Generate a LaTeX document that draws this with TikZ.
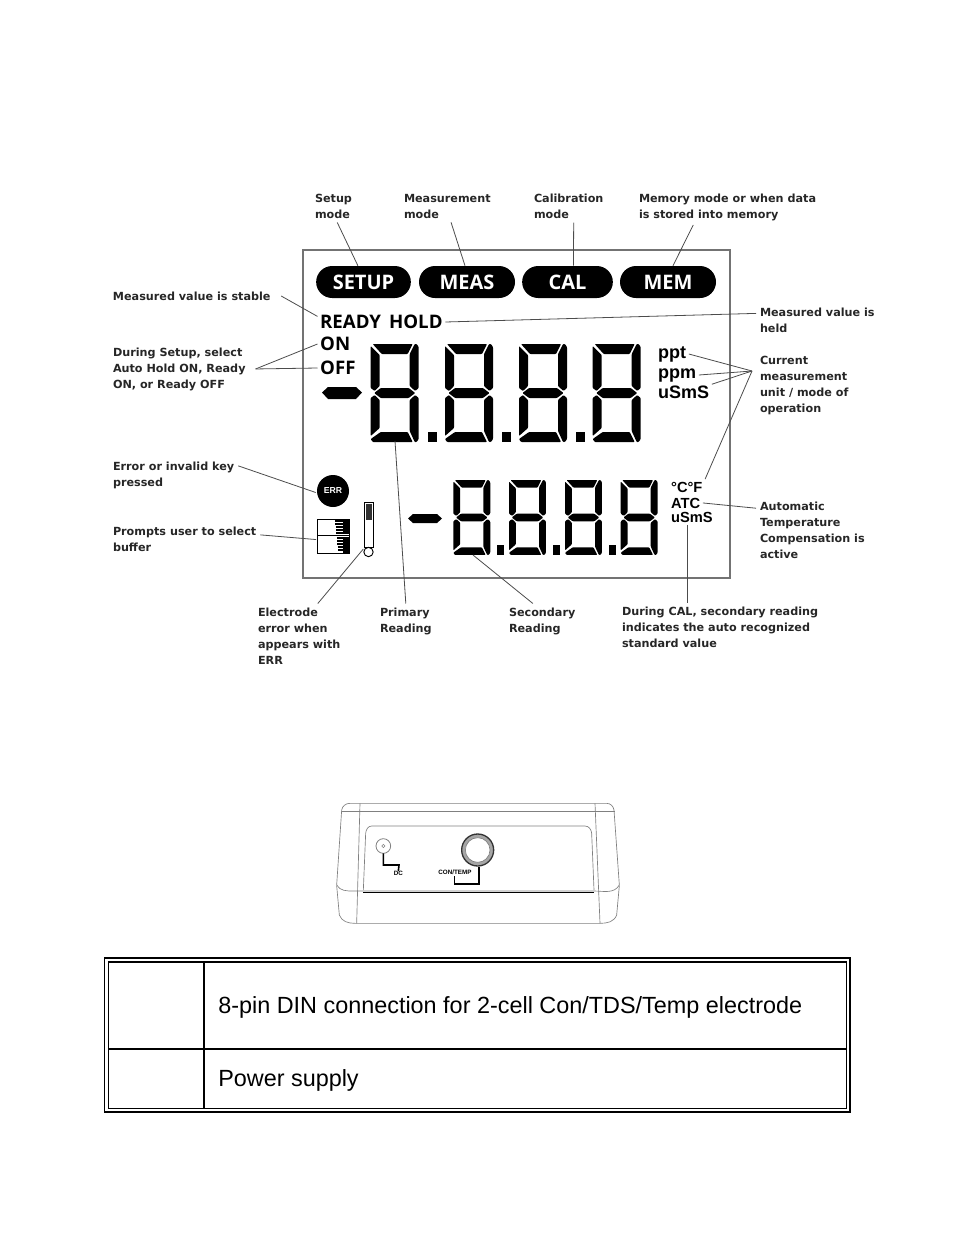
\documentclass[tikz,border=0pt]{standalone}
\usepackage{fontspec}
\setmainfont{Liberation Sans}
\newfontfamily\lblfont{DejaVu Sans}
\newfontfamily\lcdfont{Open Sans}
\usetikzlibrary{calc}
\definecolor{framegray}{gray}{0.45}
\definecolor{leadgray}{gray}{0.3}
\tikzset{
  lbl/.style={anchor=north west,align=left,inner sep=0pt,outer sep=3pt,text=black!85,font=\lblfont\bfseries\fontsize{8.4}{12}\selectfont},
  pill/.style={fill=black,text=white,rounded corners=12pt,minimum height=24pt,inner sep=0pt,font=\lcdfont\bfseries\fontsize{15}{15}\selectfont},
  lcdtxt/.style={inner sep=0pt,outer sep=2pt,font=\lcdfont\bfseries\fontsize{14}{14}\selectfont},
  unit/.style={anchor=base west,inner sep=0pt,outer sep=2pt,font=\bfseries\fontsize{#1}{#1}\selectfont},
  lead/.style={draw=leadgray,line width=.6pt},
  shell/.style={draw=gray,line width=.5pt},
  pics/lcddigit/.style n args={2}{code={
    \begin{scope}[xscale=#1,yscale=#2,rounded corners=.6pt]
    \fill (2,0)--(42,0)--(37,10)--(11,10)--cycle;
    \fill (0,2)--(9,11)--(9,42)--(4,47)--(0,44)--cycle;
    \fill (44,0)--(46,0)--(48,3)--(48,44)--(44.5,47)--(39,42)--(39,10)--cycle;
    \fill (3.5,49)--(10,44)--(38,44)--(44.5,49)--(38,54)--(10,54)--cycle;
    \fill (0,54)--(4,51)--(9,56)--(9,84)--(0,92)--cycle;
    \fill (48,54)--(44.5,51)--(39,56)--(39,87)--(44,98)--(46,98)--(48,95)--cycle;
    \fill (2,98)--(0,95)--(10,88)--(37,88)--(42,98)--cycle;
    \end{scope}}}
}
\begin{document}
\begin{tikzpicture}[x=.75pt,y=-.75pt]
\useasboundingbox (0,0) rectangle (954,1247);
\draw[framegray,line width=1.1pt] (303,250) rectangle (730,578);
\node[pill,minimum width=71pt] (setup) at (363.5,282) {SETUP};
\node[pill,minimum width=72pt] (meas) at (467,282) {MEAS};
\node[pill,minimum width=68pt] (cal) at (567.5,282) {CAL};
\node[pill,minimum width=72pt] (mem) at (668,282) {MEM};
\node[lbl] (lsetup) at (311,190) {Setup\\mode};
\node[lbl] (lmeas) at (400,190) {Measurement\\mode};
\node[lbl] (lcal) at (530,190) {Calibration\\mode};
\node[lbl] (lmem) at (635,190) {Memory mode or when data\\is stored into memory};
\node[lbl,outer sep=8pt,anchor=west] (lstable) at (102.3,296) {Measured value is stable};
\node[lbl,outer sep=7.5pt] (lduring) at (103,337.5) {During Setup, select\\Auto Hold ON, Ready\\ON, or Ready OFF};
\node[lbl] (lerror) at (109,457.5) {Error or invalid key\\pressed};
\node[lbl] (lprompts) at (109,522.5) {Prompts user to select\\buffer};
\node[lbl] (lelectrode) at (254,603.5) {Electrode\\error when\\appears with\\ERR};
\node[lbl] (lprimary) at (376,603.5) {Primary\\Reading};
\node[lbl] (lsecondary) at (505,603.5) {Secondary\\Reading};
\node[lbl] (lcalread) at (618,602.5) {During CAL, secondary reading\\indicates the auto recognized\\standard value};
\node[lbl] (lheld) at (756,303.5) {Measured value is\\held};
\node[lbl] (lcurrent) at (756,352.5) {Current\\measurement\\unit / mode of\\operation};
\node[lbl] (lauto) at (756,497.5) {Automatic\\Temperature\\Compensation is\\active};
\node[lcdtxt,anchor=west] (ready) at (317.5,322) {READY\hspace{6pt}HOLD};
\node[lcdtxt,anchor=west] (on) at (317.5,344) {ON};
\node[lcdtxt,anchor=west] (off) at (317.5,368) {OFF};
\node[unit=13.5] (ppt) at (655.5,358) {ppt};
\node[unit=13.5] (ppm) at (655.5,378) {ppm};
\node[unit=13.5] (usms) at (655.5,398) {uSmS};
\node[unit=11] (cf) at (668.5,492) {°C°F};
\node[unit=11] (atc) at (668.5,508) {ATC};
\node[unit=11] (usmstwo) at (668.5,522) {uSmS};
\foreach \dx in {370.7,445,519,592.7} \pic at (\dx,344) {lcddigit={1}{1}};
\foreach \dx in {453.3,509,565,620.7} \pic at (\dx,480) {lcddigit={.77}{.765}};
\foreach \dx in {428,502,576} \fill (\dx,432) rectangle ++(9,10);
\foreach \dx in {497,553,609} \fill (\dx,545) rectangle ++(7,10);
\fill (322,392.5)--(328,387)--(356,387)--(362,392.5)--(356,399)--(328,399)--cycle;
\fill (408,518.5)--(413,514)--(437,514)--(442,518.5)--(437,523)--(413,523)--cycle;
\node[circle,fill=black,text=white,minimum size=24pt,inner sep=0pt,outer sep=1pt,font=\bfseries\fontsize{6.5}{6.5}\selectfont] (err) at (333,491) {ERR};
\node[draw,line width=.9pt,minimum width=24pt,minimum height=26pt,inner sep=0pt,outer sep=1pt] (bufbox) at (333.5,536.5) {};
\draw[line width=.9pt] (317,535.5)--(350,535.5);
\foreach \ty in {521,524,527,530,533,538,541,544,547,550} \draw[line width=1pt] (335+\ty/10-52,\ty)--(349,\ty);
\fill (343,520) rectangle (349,534);
\fill (343,537) rectangle (349,553);
\draw[line width=.7pt] (364.5,502) rectangle (373.5,547);
\fill[black!80] (366,504) rectangle (372,520);
\node[circle,draw,line width=.7pt,minimum size=7pt,inner sep=0pt,outer sep=1pt] (bulb) at (368.5,552) {};
\coordinate (digitone) at (395,441);
\coordinate (digitfive) at (473,555);
\coordinate (curjoin) at (752,371);
\draw[lead] (lsetup.-77)--(setup.109);
\draw[lead] (lmeas.-77)--(meas.97);
\draw[lead] (lcal.-73)--(cal.70);
\draw[lead] (lmem.-153)--(mem.73);
\draw[lead] (lstable.east)--(ready.175);
\draw[lead] (ready.east)--(lheld.174);
\draw[lead] (lduring.east)--(on.west);
\draw[lead] (lduring.east)--(off.west);
\draw[lead] (lerror.8)--(err.185);
\draw[lead] (lprompts.3)--(bufbox.190);
\draw[lead] (lelectrode.60)--(bulb.150);
\draw[lead] (digitone)--(lprimary.north);
\draw[lead] (digitfive)--(lsecondary.118);
\draw[lead] (usmstwo.-120)--(usmstwo.-120 |- lcalread.north);
\draw[lead] (ppt.east)--(curjoin);
\draw[lead] (ppm.east)--(curjoin);
\draw[lead] (usms.15)--(curjoin);
\draw[lead] (cf.north east)--(curjoin);
\draw[lead] (atc.east)--(lauto.159);
\begin{scope}[shift={(330,795)},x=.25pt,y=-.25pt]
\draw[shell] (20,270)--(35,45) to[out=80,in=180] (60,25)--(830,25) to[out=0,in=100] (852,45)--(868,270);
\draw[shell] (35,50)--(855,50);
\draw[shell] (20,270) to[out=-60,in=180] (70,288)--(790,288) to[out=0,in=-120] (868,270);
\draw[shell] (20,272)--(28,360) to[out=-70,in=180] (75,385)--(810,385) to[out=0,in=-110] (860,360)--(868,272);
\draw[shell] (90,25)--(80,385);
\draw[shell] (795,25)--(810,385);
\draw[shell] (100,285)--(107,115) to[out=85,in=180] (125,93)--(765,93) to[out=0,in=95] (785,115)--(792,285);
\draw[black,line width=.6pt] (100,291)--(792,291);
\draw[gray,line width=.6pt] (160,153) circle (22);
\draw[gray,line width=.4pt] (160,153) circle (5);
\draw[gray!70,line width=2.4pt] (443,165) circle (42);
\draw[black!80,line width=1pt] (443,165) circle (48);
\draw[gray,line width=.5pt] (443,165) circle (37);
\node[inner sep=0pt,font=\bfseries\fontsize{4.7}{4.7}\selectfont] (dc) at (205,236) {DC};
\node[inner sep=0pt,font=\bfseries\fontsize{4.7}{4.7}\selectfont] (contemp) at (375,233) {CON/TEMP};
\draw[black,line width=1.2pt] (160,175)--(160,210)--(207,210)--(dc.north);
\draw[black,line width=1.2pt] (447,215)--(447,267)--(373,267)--(373,243);
\end{scope}
\draw[line width=1.1pt] (104.5,958) rectangle (850,1112);
\draw[line width=1.1pt] (108.5,962) rectangle (846.5,1108.5);
\draw[line width=1.5pt] (204,962)--(204,1108.5);
\draw[line width=1.5pt] (108.5,1049)--(846.5,1049);
\node[anchor=west,inner sep=0pt,font=\fontsize{17.55}{20}\selectfont] (din) at (218,1007) {8-pin DIN connection for 2-cell Con/TDS/Temp electrode};
\node[anchor=west,inner sep=0pt,font=\fontsize{17.55}{20}\selectfont] (power) at (218,1080) {Power supply};
\end{tikzpicture}
\end{document}
